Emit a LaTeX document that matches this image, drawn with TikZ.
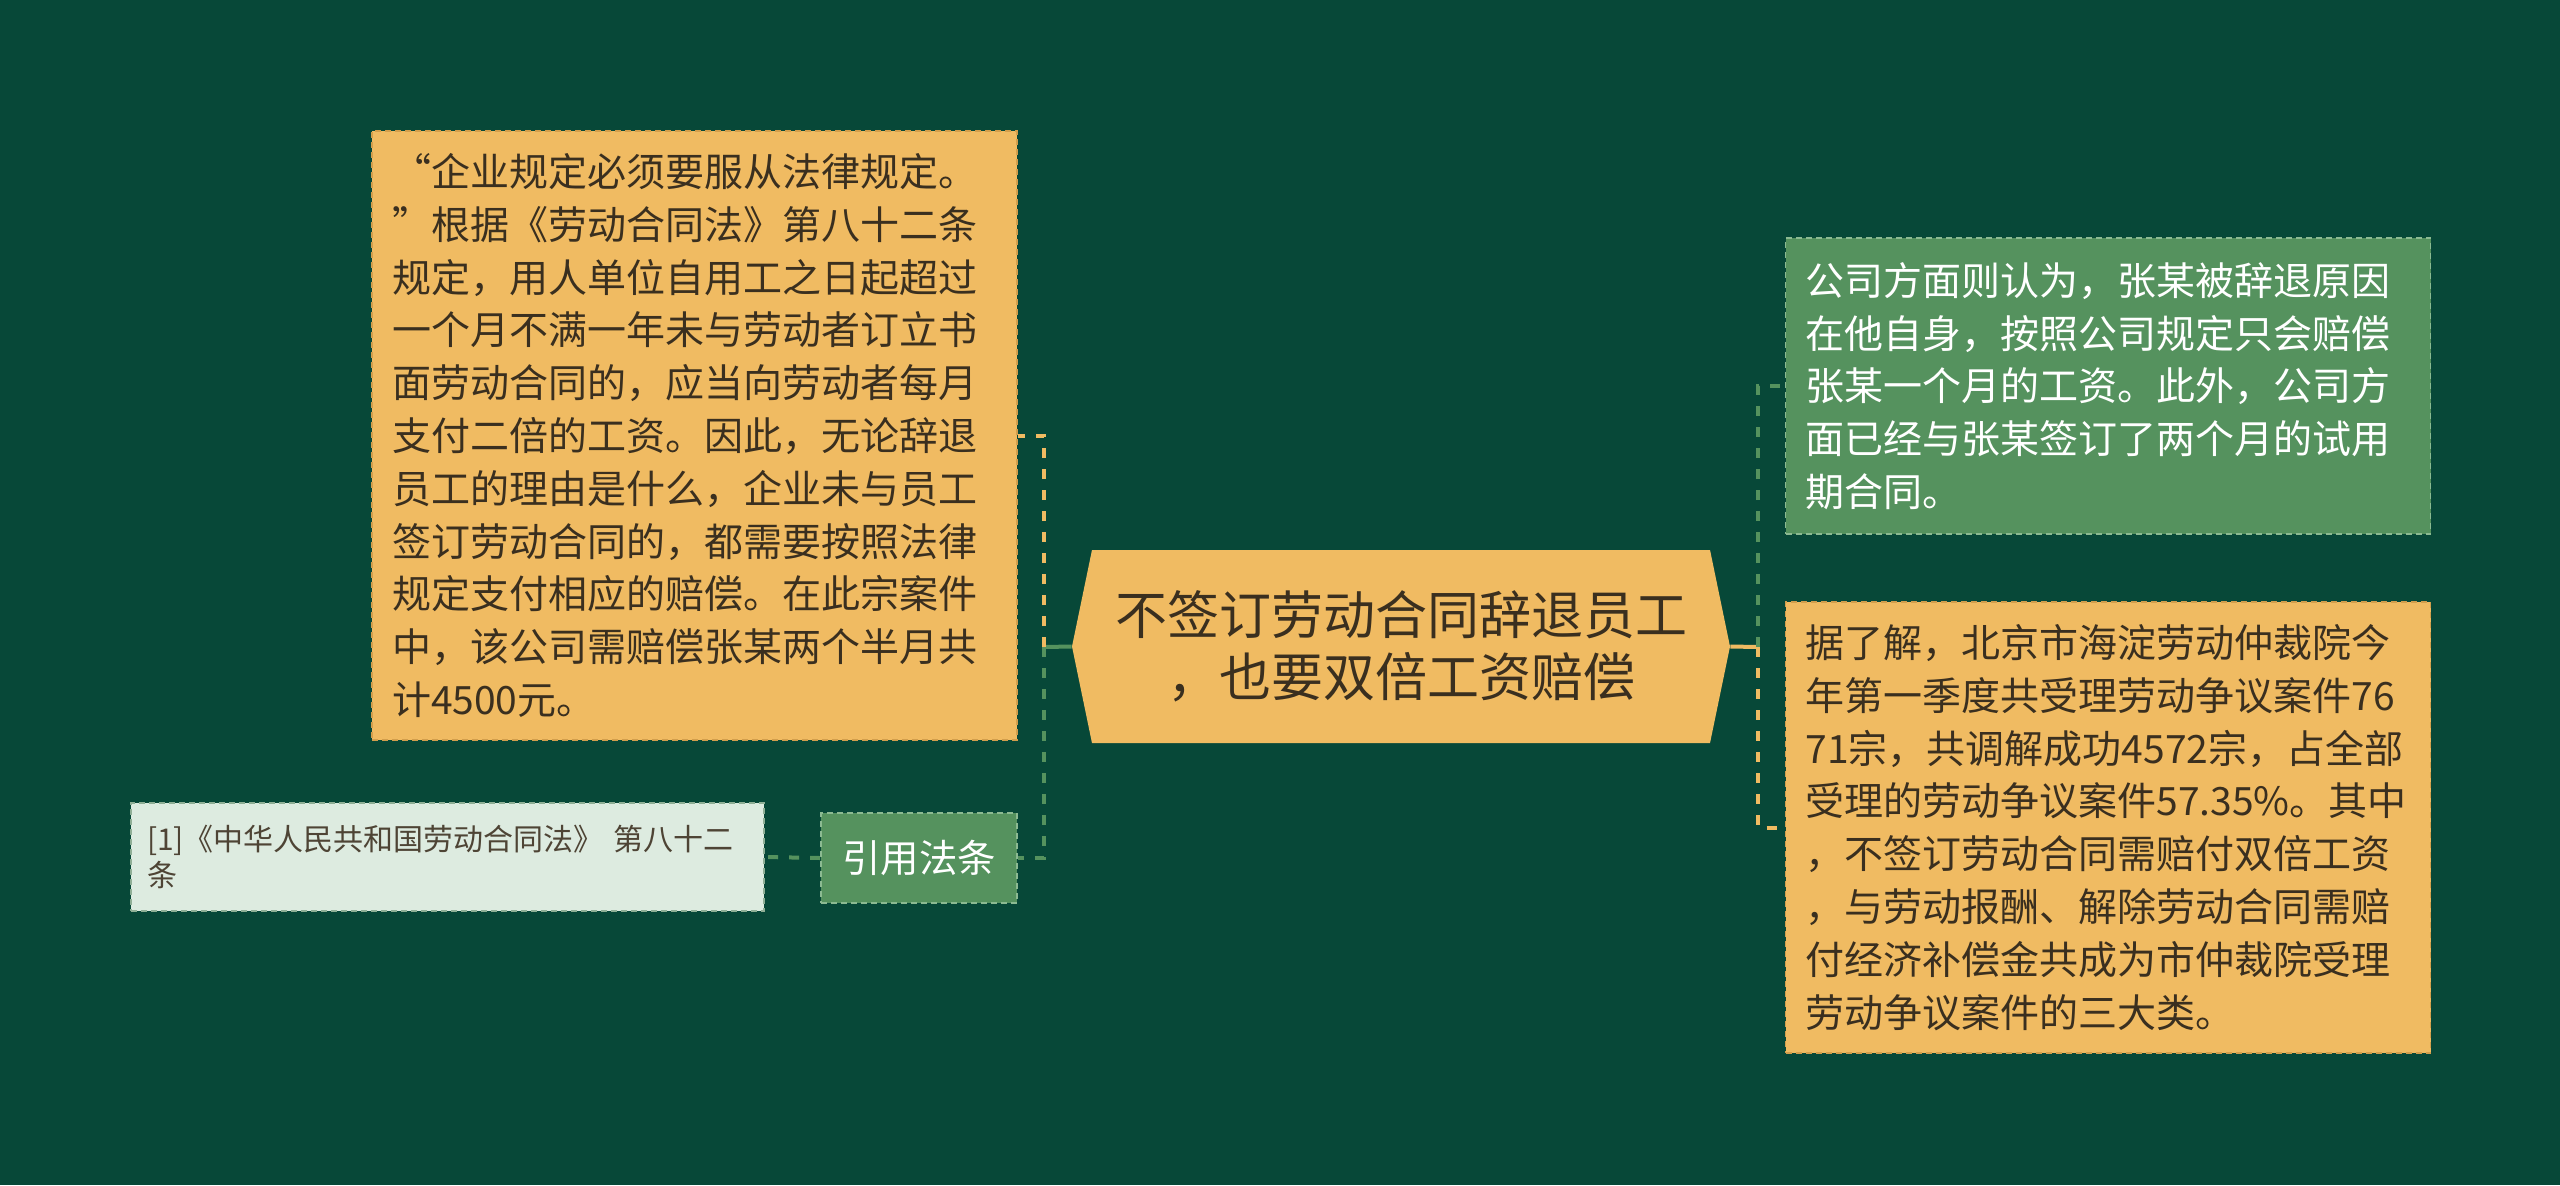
\documentclass[tikz,border=0pt]{standalone}
\usepackage{fontspec}
\setmainfont{Noto Sans CJK SC}
\usetikzlibrary{shapes.symbols}

\definecolor{pine}{HTML}{074838}
\definecolor{amber}{HTML}{F0BB62}
\definecolor{amberline}{HTML}{D29E4C}
\definecolor{leaf}{HTML}{55925E}
\definecolor{leafline}{HTML}{8CBA92}
\definecolor{mist}{HTML}{DDEBE0}
\definecolor{mistline}{HTML}{8FAF96}
\definecolor{ink}{HTML}{3A2F1F}

\newcommand{\fwq}[1]{{\addfontfeatures{RawFeature=+fwid}#1}}

\begin{document}
\begin{tikzpicture}[x=0.5pt, y=-0.5pt,
    box/.style={rectangle, inner xsep=10pt, inner ysep=0pt, align=left,
      line width=0.8pt, dash pattern=on 3pt off 2pt},
    ambox/.style={box, fill=amber, draw=amberline, text=ink},
    lfbox/.style={box, fill=leaf, draw=leafline, text=white},
    wide/.style={minimum width=322.5pt, text width=302.5pt},
    body/.style={font=\fontsize{19.5pt}{26.4pt}\selectfont},
    hex/.style={shape=signal, signal to=west and east, signal pointer angle=156.6,
      fill=amber, text=ink, inner sep=0pt, align=center,
      minimum width=329pt, minimum height=96.5pt,
      font=\fontsize{26pt}{31pt}\selectfont},
    link/.style={line width=2pt, dash pattern=on 5pt off 5.5pt},
    stub/.style={line width=2pt}]
  \fill[pine] (0,0) rectangle (2560,1185);
  \useasboundingbox (0,0) rectangle (2560,1185);

  \node[hex] (root) at (1401,646.5) {不签订劳动合同辞退员工\\，也要双倍工资赔偿};

  \node[ambox, wide, body, minimum height=304.5pt] (law) at (694.5,435.5)
    {\fwq{“}企业规定必须要服从法律规定。\\
     \fwq{”}根据《劳动合同法》第八十二条\\
     规定，用人单位自用工之日起超过\\
     一个月不满一年未与劳动者订立书\\
     面劳动合同的，应当向劳动者每月\\
     支付二倍的工资。因此，无论辞退\\
     员工的理由是什么，企业未与员工\\
     签订劳动合同的，都需要按照法律\\
     规定支付相应的赔偿。在此宗案件\\
     中，该公司需赔偿张某两个半月共\\
     计4500元。};
  \node[lfbox, align=center, inner xsep=0pt, minimum width=98pt, minimum height=45pt,
    font=\fontsize{19.2pt}{23pt}\selectfont] (cite) at (919,858) {引用法条};
  \node[box, fill=mist, draw=mistline, text=ink!90, inner xsep=8pt,
    minimum width=316.5pt, text width=300.5pt, minimum height=54pt,
    font=\fontsize{15pt}{18pt}\selectfont] (ref) at (447.5,857)
    {[1]《中华人民共和国劳动合同法》 第八十二\\条};

  \node[lfbox, wide, body, minimum height=148pt] (firm) at (2108,386)
    {公司方面则认为，张某被辞退原因\\
     在他自身，按照公司规定只会赔偿\\
     张某一个月的工资。此外，公司方\\
     面已经与张某签订了两个月的试用\\
     期合同。};
  \node[ambox, wide, body, minimum height=225.5pt] (stat) at (2108,827.5)
    {据了解，北京市海淀劳动仲裁院今\\
     年第一季度共受理劳动争议案件76\\
     71宗，共调解成功4572宗，占全部\\
     受理的劳动争议案件57.35\%。其中\\
     ，不签订劳动合同需赔付双倍工资\\
     ，与劳动报酬、解除劳动合同需赔\\
     付经济补偿金共成为市仲裁院受理\\
     劳动争议案件的三大类。};

  \coordinate (jl) at (1044,647);
  \coordinate (jr) at (1758,647);

  % left side
  \draw[stub, leaf] (root.west) -- (jl);
  \draw[link, amber] (jl) |- (law.east);
  \draw[link, leaf] (jl) |- (cite.east);
  \draw[link, leaf] (cite.west) -- (ref.east);
  % right side
  \draw[stub, amber] (root.east) -- (jr);
  \draw[link, leaf] (jr) |- (firm.west);
  \draw[link, amber] (jr) |- (stat.west);
\end{tikzpicture}
\end{document}
